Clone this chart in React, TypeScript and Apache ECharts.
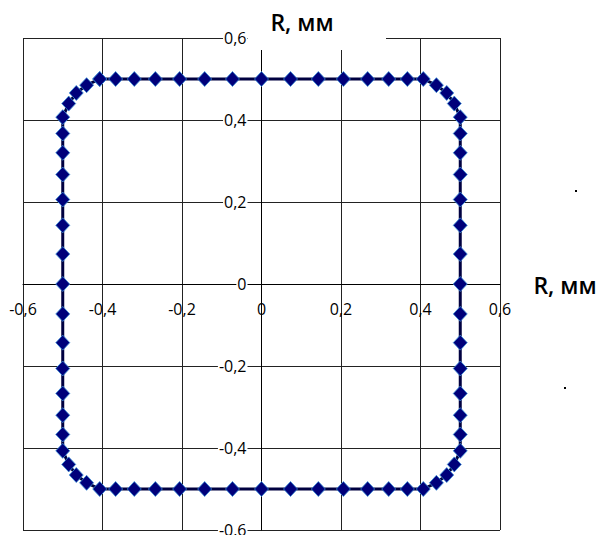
import React, { useEffect, useRef } from "react";
import * as echarts from "echarts";

const axisTitle = "R, мм";
const tickValues = [-0.6, -0.4, -0.2, 0, 0.2, 0.4, 0.6];

const xValues = [
  -0.407, -0.367, -0.32, -0.267, -0.206, -0.143, -0.073, 0, 0.073, 0.143, 0.206, 0.267, 0.32, 0.367, 0.407,
  0.44, 0.466, 0.485,
  0.5, 0.5, 0.5, 0.5, 0.5, 0.5, 0.5, 0.5, 0.5, 0.5, 0.5, 0.5, 0.5, 0.5, 0.5,
  0.485, 0.466, 0.44,
  0.407, 0.367, 0.32, 0.267, 0.206, 0.143, 0.073, 0, -0.073, -0.143, -0.206, -0.267, -0.32, -0.367, -0.407,
  -0.44, -0.466, -0.485,
  -0.5, -0.5, -0.5, -0.5, -0.5, -0.5, -0.5, -0.5, -0.5, -0.5, -0.5, -0.5, -0.5, -0.5, -0.5,
  -0.485, -0.466, -0.44,
  -0.407,
];

const yValues = [
  0.5, 0.5, 0.5, 0.5, 0.5, 0.5, 0.5, 0.5, 0.5, 0.5, 0.5, 0.5, 0.5, 0.5, 0.5,
  0.485, 0.466, 0.44,
  0.407, 0.367, 0.32, 0.267, 0.206, 0.143, 0.073, 0, -0.073, -0.143, -0.206, -0.267, -0.32, -0.367, -0.407,
  -0.44, -0.466, -0.485,
  -0.5, -0.5, -0.5, -0.5, -0.5, -0.5, -0.5, -0.5, -0.5, -0.5, -0.5, -0.5, -0.5, -0.5, -0.5,
  -0.485, -0.466, -0.44,
  -0.407, -0.367, -0.32, -0.267, -0.206, -0.143, -0.073, 0, 0.073, 0.143, 0.206, 0.267, 0.32, 0.367, 0.407,
  0.44, 0.466, 0.485,
  0.5,
];

const fmt = (v: number) => {
  const r = Math.round(v * 10) / 10;
  return r === 0 ? "0" : String(r).replace(".", ",");
};

const GRID_LEFT = 23;
const GRID_RIGHT = 101;
const GRID_TOP = 38;
const GRID_BOTTOM = 5;
const W = 601;
const H = 535;

export default function App() {
  const ref = useRef<HTMLDivElement>(null);
  useEffect(() => {
    document.body.style.margin = "0";
    const chart = echarts.init(ref.current!, null, { renderer: "svg" });
    const data = xValues.map((x, i) => [x, yValues[i]]);
    const font = "Open Sans";
    const gridW = W - GRID_LEFT - GRID_RIGHT;
    const gridH = H - GRID_TOP - GRID_BOTTOM;
    chart.setOption({
      animation: false,
      backgroundColor: "#ffffff",
      grid: {
        left: GRID_LEFT,
        right: GRID_RIGHT,
        top: GRID_TOP,
        bottom: GRID_BOTTOM,
        containLabel: false,
        outerBoundsMode: "none",
      },
      xAxis: {
        type: "value",
        position: "bottom",
        offset: -gridH / 2,
        min: tickValues[0],
        max: tickValues[tickValues.length - 1],
        interval: 0.2,
        axisLine: { show: true, onZero: false, lineStyle: { color: "#000", width: 1 } },
        axisTick: { show: false },
        axisLabel: {
          formatter: fmt,
          color: "#000",
          fontFamily: font,
          fontSize: 16,
          margin: 17,
          showMinLabel: true,
          showMaxLabel: true,
        },
        splitLine: { show: true, lineStyle: { color: "#222", width: 1 } },
      },
      yAxis: {
        type: "value",
        position: "left",
        offset: -gridW / 2,
        min: tickValues[0],
        max: tickValues[tickValues.length - 1],
        interval: 0.2,
        axisLine: { show: true, onZero: false, lineStyle: { color: "#000", width: 1 } },
        axisTick: { show: false },
        axisLabel: {
          formatter: fmt,
          color: "#000",
          fontFamily: font,
          fontSize: 16,
          margin: 14,
          backgroundColor: "#fff",
          padding: [0, 1],
          showMinLabel: true,
          showMaxLabel: true,
        },
        splitLine: { show: true, lineStyle: { color: "#222", width: 1 } },
      },
      graphic: [
        { type: "rect", shape: { x: 248, y: 0, width: 138, height: 50 }, style: { fill: "#fff" }, z: 50 },
        {
          type: "text",
          x: 302,
          y: 22,
          z: 51,
          style: { text: axisTitle, font: "600 23px 'Open Sans'", fill: "#000", align: "center", verticalAlign: "middle" },
        },
        {
          type: "text",
          x: 565,
          y: 285,
          z: 51,
          style: { text: axisTitle, font: "600 23px 'Open Sans'", fill: "#000", align: "center", verticalAlign: "middle" },
        },
        { type: "rect", shape: { x: 575, y: 190, width: 2, height: 2 }, style: { fill: "#000" }, z: 51 },
        { type: "rect", shape: { x: 564, y: 387, width: 2, height: 2 }, style: { fill: "#000" }, z: 51 },
      ],
      series: [
        {
          type: "line",
          data,
          showSymbol: true,
          symbol: "diamond",
          symbolSize: [14, 15],
          lineStyle: { color: "#000040", width: 3 },
          itemStyle: { color: "#00007a", borderColor: "#3a8fd8", borderWidth: 0.8 },
          z: 10,
        },
      ],
    });
    return () => chart.dispose();
  }, []);
  return <div ref={ref} style={{ width: W, height: H }} />;
}
